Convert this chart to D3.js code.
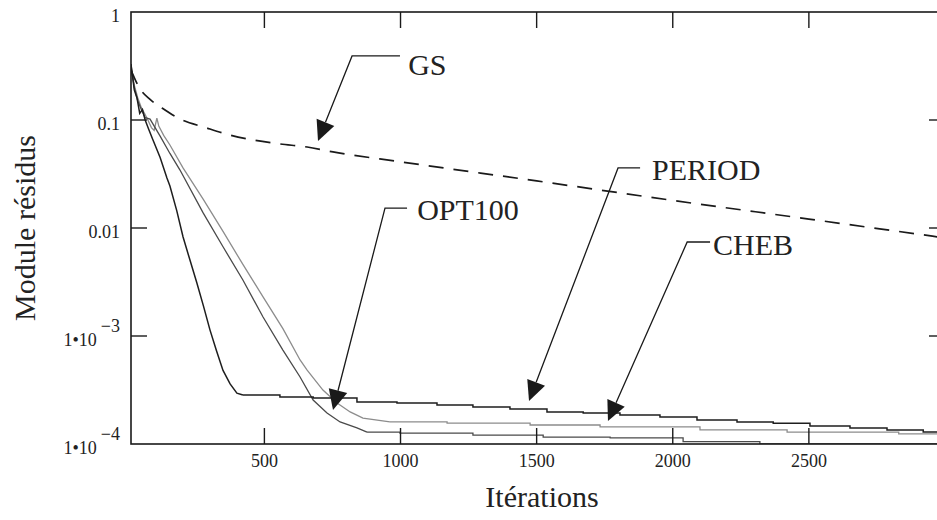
<!DOCTYPE html>
<html>
<head>
<meta charset="utf-8">
<script src="https://cdn.jsdelivr.net/npm/d3@7"></script>
<style>
  body { margin: 0; background: #fff; }
  svg { display: block; font-family: "Liberation Serif", "Times New Roman", serif; }
</style>
</head>
<body>
<svg id="chart" width="937" height="520"></svg>
<script>
// ---- data (iteration, residual module) ----
// GS : dashed
const gsIter = [10, 40, 80, 124, 194, 282, 366, 458, 557, 657, 752, 1000, 1500, 2000, 2500, 3000];
const gsVal  = [0.29, 0.2, 0.155, 0.129, 0.101, 0.0853, 0.0734, 0.0653, 0.06, 0.0562, 0.0506, 0.041, 0.0273, 0.018, 0.0121, 0.0081];

// dark solid curve : fast drop then slow staircase
const periodIter = [10, 22, 32, 42, 52, 62, 75, 90, 117, 142, 153, 178, 201, 226, 252, 276, 300, 324, 348, 374, 399, 421];
const periodVal  = [0.33, 0.19, 0.16, 0.115, 0.125, 0.1, 0.082, 0.066, 0.045, 0.029, 0.0245, 0.0145, 0.0083, 0.0051, 0.0031, 0.0019, 0.00114, 0.00073, 0.00048, 0.00036, 0.000296, 0.000284];
const periodTailIter = [421, 557, 679, 840, 987, 1134, 1266, 1402, 1538, 1671, 1806, 1953, 2089, 2236, 2369, 2504, 2651, 2787, 2920, 3000];
const periodTailVal  = [2.84e-4, 2.72e-4, 2.67e-4, 2.45e-4, 2.4e-4, 2.3e-4, 2.2e-4, 2.11e-4, 1.98e-4, 1.94e-4, 1.86e-4, 1.78e-4, 1.67e-4, 1.6e-4, 1.56e-4, 1.47e-4, 1.41e-4, 1.35e-4, 1.29e-4, 1.29e-4];

// mid grey curve : ends lowest
const optIter = [10, 22, 35, 48, 62, 80, 117, 153, 190, 275, 348, 421, 495, 568, 631, 679, 730, 778, 840, 877];
const optVal  = [0.32, 0.2, 0.15, 0.125, 0.105, 0.102, 0.071, 0.049, 0.0344, 0.0138, 0.0067, 0.0033, 0.0015, 0.00074, 0.000417, 0.000255, 0.000194, 0.00016, 0.000141, 0.000129];
const optTailIter = [877, 998, 1266, 1524, 1770, 2038, 2320, 3000];
const optTailVal  = [1.29e-4, 1.26e-4, 1.21e-4, 1.16e-4, 1.14e-4, 1.05e-4, 1.0e-4, 1.0e-4];

// light grey curve : with the small bump near 0.1
const chebIter = [10, 22, 35, 48, 60, 72, 85, 95, 105, 112, 130, 153, 201, 275, 348, 421, 495, 568, 631, 657, 715, 767, 815, 862, 961];
const chebVal  = [0.3, 0.21, 0.16, 0.13, 0.115, 0.1, 0.085, 0.08, 0.104, 0.088, 0.072, 0.0587, 0.036, 0.0185, 0.0093, 0.0046, 0.0023, 0.00117, 0.0006, 0.000484, 0.000316, 0.00024, 0.000198, 0.000174, 0.00016];
const chebTailIter = [961, 1171, 1476, 1733, 2100, 2420, 2830, 3000];
const chebTailVal  = [1.6e-4, 1.56e-4, 1.5e-4, 1.44e-4, 1.35e-4, 1.29e-4, 1.24e-4, 1.24e-4];

// axis ticks
const xTicks = [500, 1000, 1500, 2000, 2500];
const yTicks = [1, 0.1, 0.01, 1e-3, 1e-4];
const yTickLabels = [["1"], ["0.1"], ["0.01"], ["1•10", "−3"], ["1•10", "−4"]];

// annotations: label, tip (iter, value), elbow, end of the short bar, text anchor
const labels = ["GS", "OPT100", "PERIOD", "CHEB"];
const tipIter   = [697, 752, 1472, 1762];
const tipVal    = [0.064, 2.06e-4, 2.5e-4, 1.63e-4];
const elbowIter = [822, 943, 1799, 2053];
const elbowVal  = [0.392, 0.0153, 0.036, 0.00742];
const barIter   = [998, 1024, 1880, 2137];
const textIter  = [1028, 1061, 1924, 2148];
const textVal   = [0.261, 0.01186, 0.0278, 0.00562];

// ---- drawing ----
const svg = d3.select("#chart");
const mLeft = 131, mRight = 945, mTop = 12, mBottom = 444;

const x = d3.scaleLinear().domain([10, 3000]).range([mLeft, mRight]);
const y = d3.scaleLog().domain([1e-4, 1]).range([mBottom, mTop]);

svg.append("clipPath").attr("id", "plotclip")
  .append("rect")
  .attr("x", mLeft).attr("y", mTop)
  .attr("width", mRight - mLeft).attr("height", mBottom - mTop);

const plot = svg.append("g").attr("clip-path", "url(#plotclip)");

const zip = (xs, ys) => xs.map((d, i) => [d, ys[i]]);
const lineLin = d3.line().x(d => x(d[0])).y(d => y(d[1]));
const lineStep = d3.line().x(d => x(d[0])).y(d => y(d[1])).curve(d3.curveStepAfter);
const lineSmooth = d3.line().x(d => x(d[0])).y(d => y(d[1])).curve(d3.curveMonotoneX);

function drawSeries(head, tail, color, width) {
  plot.append("path")
    .attr("d", lineLin(head))
    .attr("fill", "none")
    .attr("stroke", color)
    .attr("stroke-width", width);
  plot.append("path")
    .attr("d", lineStep(tail))
    .attr("fill", "none")
    .attr("stroke", color)
    .attr("stroke-width", width);
}

drawSeries(zip(chebIter, chebVal), zip(chebTailIter, chebTailVal), "#8c8c8c", 1.3);
drawSeries(zip(optIter, optVal), zip(optTailIter, optTailVal), "#4a4a4a", 1.3);
drawSeries(zip(periodIter, periodVal), zip(periodTailIter, periodTailVal), "#1e1e1e", 1.5);

// GS dashed
plot.append("path")
  .attr("d", lineSmooth(zip(gsIter, gsVal)))
  .attr("fill", "none")
  .attr("stroke", "#1a1a1a")
  .attr("stroke-width", 1.7)
  .attr("stroke-dasharray", "15,10");

// frame
svg.append("rect")
  .attr("x", mLeft).attr("y", mTop)
  .attr("width", mRight - mLeft).attr("height", mBottom - mTop)
  .attr("fill", "none")
  .attr("stroke", "#1a1a1a")
  .attr("stroke-width", 1.6);

const tickLen = 16;
const ticks = svg.append("g").attr("stroke", "#1a1a1a").attr("stroke-width", 1.4);
xTicks.forEach(t => {
  ticks.append("line").attr("x1", x(t)).attr("x2", x(t)).attr("y1", mBottom).attr("y2", mBottom - tickLen);
  ticks.append("line").attr("x1", x(t)).attr("x2", x(t)).attr("y1", mTop).attr("y2", mTop + tickLen);
});
yTicks.slice(1, -1).forEach(t => {
  ticks.append("line").attr("x1", mLeft).attr("x2", mLeft + tickLen).attr("y1", y(t)).attr("y2", y(t));
  ticks.append("line").attr("x1", mRight).attr("x2", mRight - tickLen).attr("y1", y(t)).attr("y2", y(t));
});

// tick labels
svg.append("g")
  .selectAll("text")
  .data(xTicks)
  .join("text")
  .attr("x", d => x(d))
  .attr("y", mBottom + 23)
  .attr("text-anchor", "middle")
  .attr("font-size", 18)
  .attr("fill", "#222")
  .text(d => d);

const yl = svg.append("g")
  .selectAll("text")
  .data(yTicks)
  .join("text")
  .attr("x", mLeft - 11)
  .attr("y", d => y(d) + 10)
  .attr("text-anchor", "end")
  .attr("font-size", 18)
  .attr("fill", "#222");
yl.each(function(d, i) {
  const parts = yTickLabels[i];
  const t = d3.select(this);
  t.append("tspan").text(parts[0]);
  if (parts[1]) t.append("tspan").attr("dx", 4).attr("dy", -14).text(parts[1]);
});

// axis titles
svg.append("text")
  .attr("x", (mLeft + mRight) / 2 + 4)
  .attr("y", 507)
  .attr("text-anchor", "middle")
  .attr("font-size", 30)
  .attr("fill", "#222")
  .text("Itérations");

svg.append("text")
  .attr("transform", `translate(35,${(mTop + mBottom) / 2}) rotate(-90)`)
  .attr("text-anchor", "middle")
  .attr("font-size", 30)
  .attr("fill", "#222")
  .text("Module résidus");

// annotations with arrows
const ann = svg.append("g");
labels.forEach((lab, i) => {
  const tx = x(tipIter[i]), ty = y(tipVal[i]);
  const ex = x(elbowIter[i]), ey = y(elbowVal[i]);
  const bx = x(barIter[i]);
  const dx = tx - ex, dy = ty - ey, len = Math.hypot(dx, dy);
  const ux = dx / len, uy = dy / len;
  const headLen = 20, headHalf = 9.5;
  const baseX = tx - ux * headLen, baseY = ty - uy * headLen;
  ann.append("path")
    .attr("d", `M${bx},${ey}L${ex},${ey}L${baseX},${baseY}`)
    .attr("fill", "none")
    .attr("stroke", "#1a1a1a")
    .attr("stroke-width", 1.3);
  ann.append("path")
    .attr("d", `M${tx},${ty}L${baseX - uy * headHalf},${baseY + ux * headHalf}L${baseX + uy * headHalf},${baseY - ux * headHalf}Z`)
    .attr("fill", "#1a1a1a");
  ann.append("text")
    .attr("x", x(textIter[i]))
    .attr("y", y(textVal[i]))
    .attr("font-size", 30)
    .attr("fill", "#222")
    .text(lab);
});
</script>
</body>
</html>
